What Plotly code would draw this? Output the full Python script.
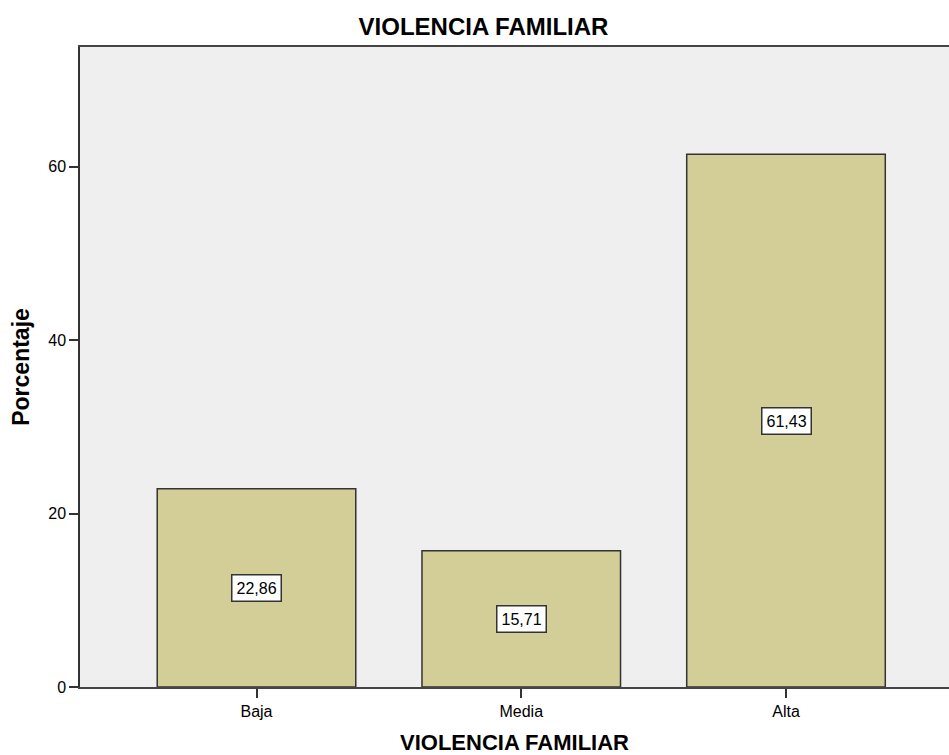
import plotly.graph_objects as go

categories = ["Baja", "Media", "Alta"]
percentages = [22.86, 15.71, 61.43]
value_labels = ["22,86", "15,71", "61,43"]
y_ticks = [0, 20, 40, 60]

FONT = "Arial, 'Liberation Sans', sans-serif"

fig = go.Figure()
fig.add_trace(go.Bar(
    x=list(range(len(categories))),
    y=percentages,
    width=0.75,
    marker=dict(color="#D3CE97", line=dict(color="#333333", width=1.5)),
    hoverinfo="skip",
))

for i, (v, lab) in enumerate(zip(percentages, value_labels)):
    fig.add_annotation(
        x=i, y=v / 2, xref="x", yref="y", text=lab, showarrow=False,
        font=dict(family=FONT, size=16, color="black"),
        bgcolor="white", bordercolor="#333333", borderwidth=1.5, borderpad=4,
    )

fig.update_layout(
    width=949, height=755,
    margin=dict(l=80, r=0, t=47, b=68),
    paper_bgcolor="white",
    plot_bgcolor="#EFEFEF",
    showlegend=False,
    font=dict(family=FONT, size=16, color="black"),
    title=dict(
        text="<b>VIOLENCIA FAMILIAR</b>",
        font=dict(family=FONT, size=24, color="black"),
        x=483.5 / 949, xanchor="center", xref="container",
        y=1 - 27 / 755, yanchor="middle", yref="container",
    ),
    xaxis=dict(
        range=[-2 / 3, -2 / 3 + 869 / 264.75],
        tickmode="array",
        tickvals=list(range(len(categories))),
        ticktext=categories,
        ticks="outside", ticklen=9, tickcolor="#333333", tickwidth=1.5,
        showgrid=False, zeroline=False,
        showline=True, linecolor="#444444", linewidth=1.5, mirror=True,
        tickfont=dict(family=FONT, size=16, color="black"),
        title=dict(text="<b>VIOLENCIA FAMILIAR</b>",
                   font=dict(family=FONT, size=22, color="black"),
                   standoff=18),
        automargin=False,
    ),
    yaxis=dict(
        range=[0, 73.8],
        tickmode="array",
        tickvals=y_ticks,
        ticktext=[str(t) for t in y_ticks],
        ticks="outside", ticklen=9, tickcolor="#333333", tickwidth=1.5,
        showgrid=False, zeroline=False,
        showline=True, linecolor="#333333", linewidth=1.5, mirror=True,
        tickfont=dict(family=FONT, size=16, color="black"),
        title=dict(text="<b>Porcentaje</b>",
                   font=dict(family=FONT, size=23, color="black"),
                   standoff=12),
        automargin=False,
    ),
)

fig.write_html(
    "out.html",
    config={"displayModeBar": False},
    post_script="document.body.style.margin='0px';document.body.style.overflow='hidden';",
)
